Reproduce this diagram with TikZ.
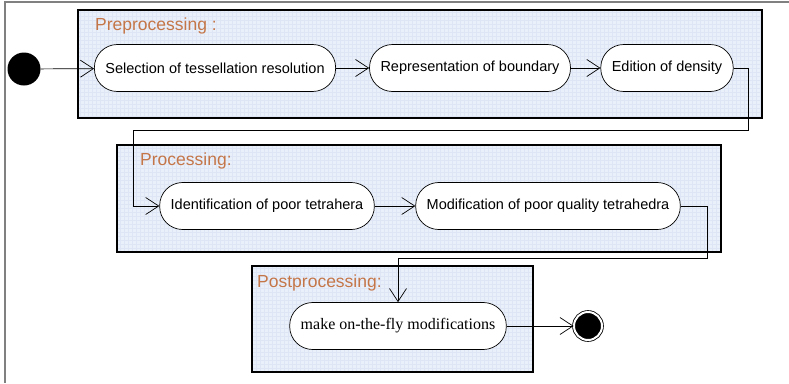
\documentclass[tikz,border=0pt]{standalone}
\usepackage{fontspec}
\setmainfont{Liberation Sans}
\newfontfamily\serifnode{Liberation Serif}
\usepackage{tikz}
\usetikzlibrary{arrows.meta}
\definecolor{stagefill}{RGB}{234,240,250}
\definecolor{stagegrid}{RGB}{222,230,246}
\definecolor{stagelabel}{RGB}{196,118,72}
\definecolor{framegray}{RGB}{128,128,128}

\begin{document}
\begin{tikzpicture}[x=1pt,y=1pt]
        \tikzstyle{every node}+=[inner sep=0pt]
        \tikzstyle{activity}=[draw=black, line width=0.7pt, fill=white, rounded corners=23pt, minimum height=47pt, inner xsep=11pt, font=\fontsize{14.5}{16}\selectfont]
        \tikzstyle{stage}=[draw=black, line width=2pt]
        \tikzstyle{stagename}=[anchor=base west, text=stagelabel, font=\fontsize{17.5}{20}\selectfont]
        \tikzstyle{flow}=[black, line width=0.7pt, -{Straight Barb[length=13pt,width=17pt]}]
        \useasboundingbox (0,0) rectangle (789,-383);
        % outer frame
        \draw [framegray, line width=1.2pt] (789,-2) -- (5,-2) -- (5,-383);
        % stage boxes
        \foreach \xa/\ya/\xb/\yb in {78/10/762/118, 117/145/721/252, 252/266/533/372} {
            \begin{scope}
                \clip (\xa,-\ya) rectangle (\xb,-\yb);
                \fill [stagefill] (\xa,-\ya) rectangle (\xb,-\yb);
                \draw [stagegrid, line width=0.4pt, step=4pt] (\xa,-\ya) grid (\xb,-\yb);
            \end{scope}
            \draw [stage] (\xa,-\ya) rectangle (\xb,-\yb);
        }
        \node [stagename] (prelabel) at (95,-30) {Preprocessing :};
        \node [stagename] (prolabel) at (140,-165) {Processing:};
        \node [stagename] (postlabel) at (257,-287) {Postprocessing:};
        % activities
        \node [circle, fill=black, minimum size=33pt] (start) at (24,-69) {};
        \node [activity] (select) at (215,-68) {Selection of tessellation resolution};
        \node [activity] (boundary) at (470,-68) {Representation of boundary};
        \node [activity] (density) at (667,-68) {Edition of density};
        \node [activity] (identify) at (267,-206) {Identification of poor tetrahera};
        \node [activity] (modify) at (548,-206) {Modification of poor quality tetrahedra};
        \node [activity, font=\serifnode\fontsize{16}{18}\selectfont] (onfly) at (398,-326) {make on-the-fly modifications};
        \node [circle, fill=black, draw=black, line width=0.8pt, double=white, double distance=2pt, minimum size=28pt] (stop) at (588,-326) {};
        % bends
        \coordinate (bendA) at (748,-130);
        \coordinate (bendB) at (133,-130);
        \coordinate (bendC) at (707,-258);
        \coordinate (bendD) at (398,-258);
        % transitions
        \draw [flow] (start) -- (select);
        \draw [flow] (select) -- (boundary);
        \draw [flow] (boundary) -- (density);
        \draw [flow] (density.east) -| (bendA) -- (bendB) |- (identify.west);
        \draw [flow] (identify) -- (modify);
        \draw [flow] (modify.east) -| (bendC) -- (bendD) -- (onfly.north);
        \draw [flow] (onfly) -- (stop);
\end{tikzpicture}
\end{document}
